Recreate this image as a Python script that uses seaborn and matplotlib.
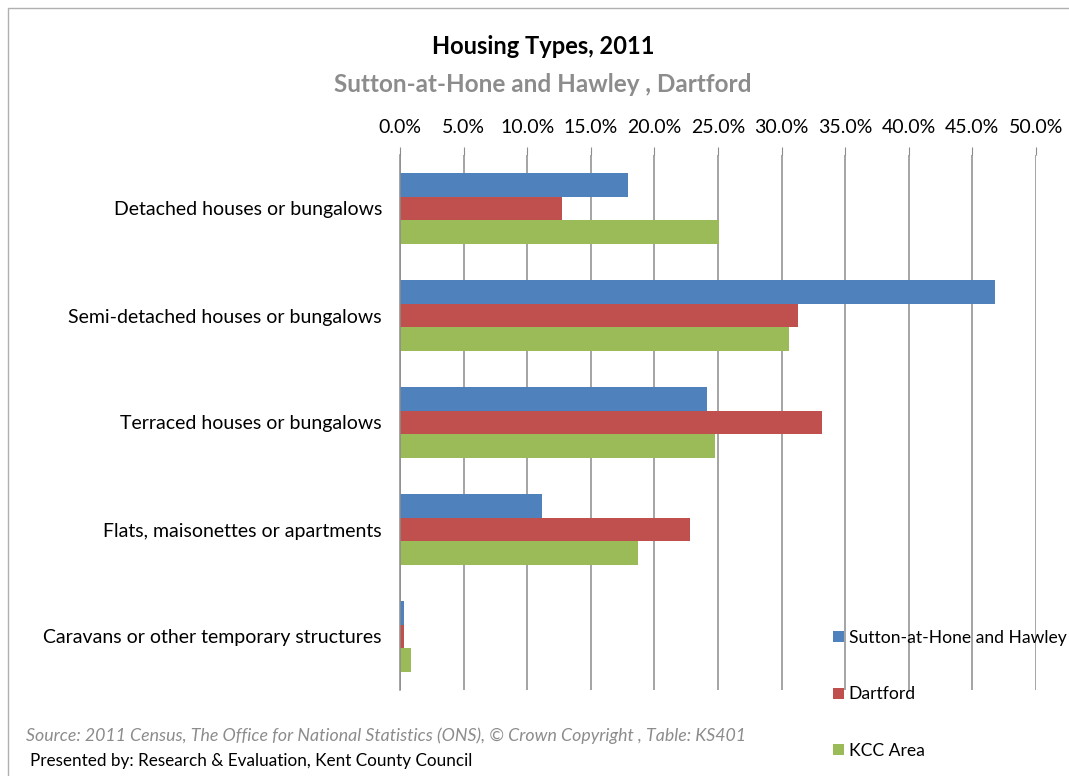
import numpy as np
import pandas as pd
import matplotlib
matplotlib.use('Agg')
import matplotlib.pyplot as plt
import seaborn as sns
from matplotlib.patches import Rectangle

# housing type shares (%)
categories = ['Detached houses or bungalows', 'Semi-detached houses or bungalows',
              'Terraced houses or bungalows', 'Flats, maisonettes or apartments',
              'Caravans or other temporary structures']
areas = ['Sutton-at-Hone and Hawley', 'Dartford', 'KCC Area']
sutton = [17.9, 46.8, 24.1, 11.2, 0.3]
dartford = [12.7, 31.3, 33.2, 22.8, 0.3]
kcc = [25.1, 30.6, 24.8, 18.7, 0.9]
ticks = np.arange(0, 55, 5)

df = pd.DataFrame({
    'category': categories * 3,
    'area': [areas[0]] * 5 + [areas[1]] * 5 + [areas[2]] * 5,
    'share': sutton + dartford + kcc,
})

sns.set_style('white')
plt.rcParams['font.family'] = ['Lato', 'DejaVu Sans']
plt.rcParams['text.color'] = 'black'
plt.rcParams['xtick.color'] = 'black'
plt.rcParams['ytick.color'] = 'black'

fig = plt.figure(figsize=(10.69, 7.76), dpi=100)
ax = fig.add_axes([400 / 1069, 1 - 690 / 776, 636 / 1069, 535 / 776])

palette = ['#4F81BD', '#C0504D', '#9BBB59']
sns.barplot(data=df, y='category', x='share', hue='area', order=categories,
            hue_order=areas, palette=palette, orient='h', width=0.67,
            saturation=1, linewidth=0, ax=ax, legend=True)

ax.set_xlim(0, 50)
ax.set_ylim(4.5, -0.5)
ax.set_xticks(ticks)
ax.set_xticklabels([f'{t:.1f}%' for t in ticks], fontsize=14)
ax.xaxis.tick_top()
ax.xaxis.grid(True, color='#8c8c8c', linewidth=1.1)
ax.set_axisbelow(True)
ax.tick_params(axis='x', which='major', length=6, color='#8c8c8c', pad=8, top=True, bottom=False)

# category ticks sit between groups
ax.set_yticks(range(5))
ax.set_yticklabels(categories, fontsize=14)
ax.set_yticks(np.arange(-0.5, 5, 1), minor=True)
ax.tick_params(axis='y', which='major', length=0, pad=13)
ax.tick_params(axis='y', which='minor', length=6, color='#8c8c8c')
ax.set_xlabel('')
ax.set_ylabel('')
for s in ['top', 'right', 'bottom']:
    ax.spines[s].set_visible(False)
ax.spines['left'].set_color('#8c8c8c')
ax.spines['left'].set_linewidth(1.1)

handles, labels = ax.get_legend_handles_labels()
ax.legend_.remove()
fig.legend(handles, labels, loc='upper left', bbox_to_anchor=(826 / 1069, 1 - 623 / 776),
           frameon=False, fontsize=12.6, handlelength=0.6, handleheight=0.6,
           handletextpad=0.3, labelspacing=2.3, borderaxespad=0)

fig.text(543 / 1069, 1 - 47 / 776, 'Housing Types, 2011', ha='center', va='center',
         fontsize=17, fontweight='bold')
fig.text(543 / 1069, 1 - 85 / 776, 'Sutton-at-Hone and Hawley , Dartford', ha='center',
         va='center', fontsize=17.5, fontweight='bold', color='#8c8c8c')
fig.text(26 / 1069, 1 - 736 / 776,
         'Source: 2011 Census, The Office for National Statistics (ONS), \u00a9 Crown Copyright , Table: KS401',
         ha='left', va='center', fontsize=12.8, style='italic', color='#8c8c8c')
fig.text(30 / 1069, 1 - 761 / 776, 'Presented by: Research & Evaluation, Kent County Council',
         ha='left', va='center', fontsize=12.3)

fig.patches.append(Rectangle((8 / 1069, -0.1), 1.2, 1 - 8 / 776 + 0.1, transform=fig.transFigure,
                             fill=False, edgecolor='#b0b0b0', linewidth=1))

fig.savefig('out.png', dpi=100)
